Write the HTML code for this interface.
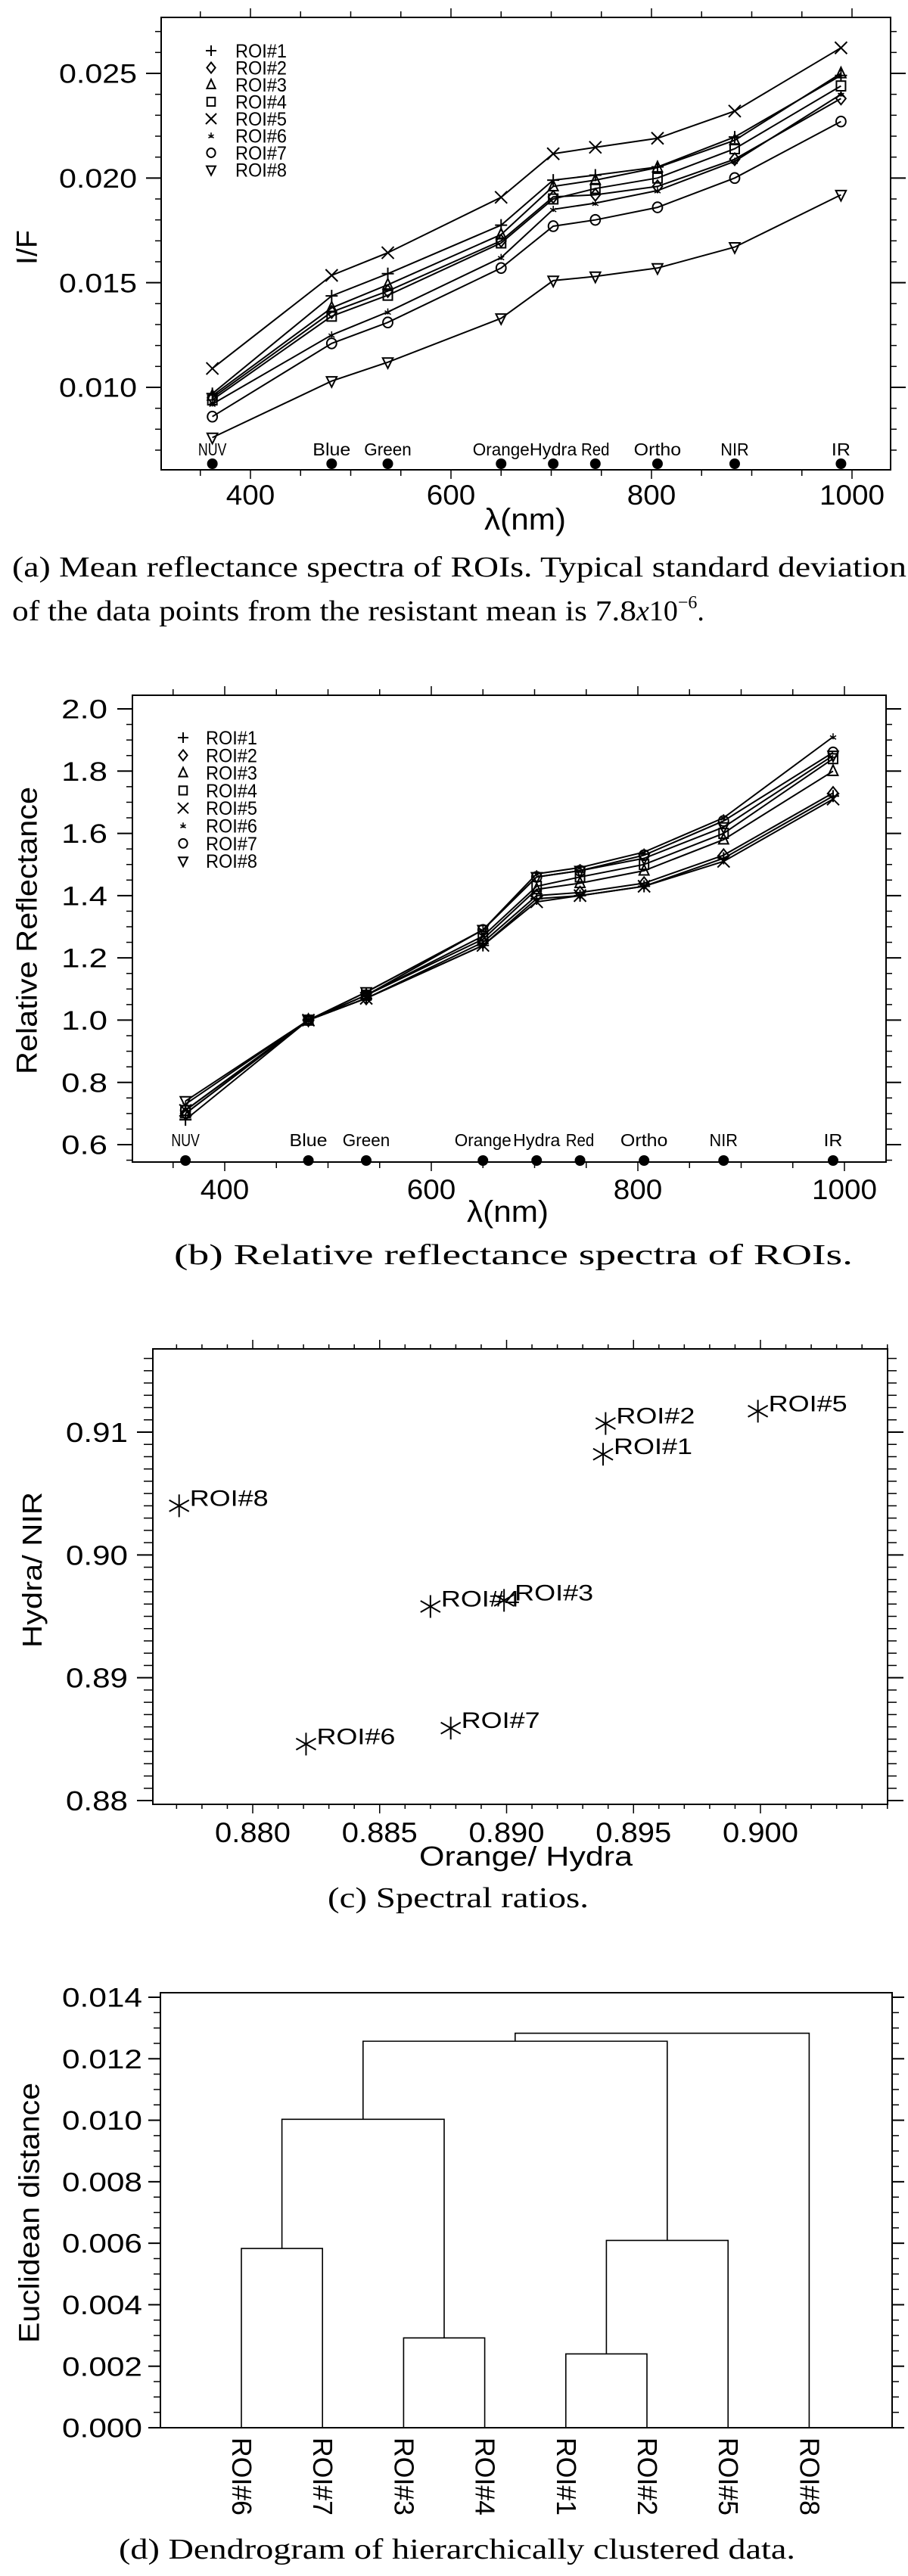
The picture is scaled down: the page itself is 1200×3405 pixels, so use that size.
<!DOCTYPE html>
<html><head><meta charset="utf-8"><title>ROI spectra figure</title>
<style>
html,body{margin:0;padding:0;background:#fff;}
svg{display:block;}
text{font-family:"Liberation Sans",sans-serif;fill:#000;}
.cap{font-family:"Liberation Serif",serif;}
</style></head>
<body>
<svg id="fig" xmlns="http://www.w3.org/2000/svg" width="1200" height="3405" viewBox="0 0 1200 3405">
<rect x="0" y="0" width="1200" height="3405" fill="#fff"/>
</svg>
<script>
// ---------- DATA ----------
const wavelengths = [362, 481, 537, 650, 702, 744, 806, 883, 989];
const bandNames = ["NUV", "Blue", "Green", "Orange", "Hydra", "Red", "Ortho", "NIR", "IR"];
const roiNames = ["ROI#1", "ROI#2", "ROI#3", "ROI#4", "ROI#5", "ROI#6", "ROI#7", "ROI#8"];
const markerTypes = ["plus", "diamond", "triangle", "square", "cross", "star", "circle", "tridown"];

// (a) I/F
const ifROI1 = [0.0097, 0.01437, 0.01543, 0.01775, 0.0199, 0.02014, 0.02053, 0.02196, 0.0249];
const ifROI2 = [0.0095, 0.0136, 0.0146, 0.0170, 0.0191, 0.0192, 0.0196, 0.0209, 0.0238];
const ifROI3 = [0.0096, 0.0138, 0.0149, 0.0173, 0.0196, 0.0199, 0.0205, 0.0218, 0.0250];
const ifROI4 = [0.0094, 0.0134, 0.0144, 0.0169, 0.0190, 0.0195, 0.0200, 0.0214, 0.0244];
const ifROI5 = [0.0109, 0.01535, 0.01643, 0.01908, 0.02116, 0.02147, 0.0219, 0.0232, 0.02622];
const ifROI6 = [0.0092, 0.0125, 0.0136, 0.0162, 0.0185, 0.0188, 0.0194, 0.0208, 0.0240];
const ifROI7 = [0.0086, 0.0121, 0.0131, 0.0157, 0.0177, 0.0180, 0.0186, 0.0200, 0.0227];
const ifROI8 = [0.0076, 0.0103, 0.0112, 0.0133, 0.0151, 0.0153, 0.0157, 0.0167, 0.0192];
const ifSeries = [ifROI1, ifROI2, ifROI3, ifROI4, ifROI5, ifROI6, ifROI7, ifROI8];
const ifTicks = [0.010, 0.015, 0.020, 0.025];
const ifTickLabels = ["0.010", "0.015", "0.020", "0.025"];

// (b) relative reflectance
const relROI1 = [0.68, 1, 1.07, 1.24, 1.39, 1.40, 1.43, 1.52, 1.72];
const relROI2 = [0.70, 1, 1.07, 1.25, 1.40, 1.41, 1.44, 1.53, 1.73];
const relROI3 = [0.70, 1, 1.08, 1.26, 1.42, 1.44, 1.48, 1.58, 1.80];
const relROI4 = [0.71, 1, 1.08, 1.27, 1.43, 1.46, 1.50, 1.60, 1.84];
const relROI5 = [0.71, 1, 1.07, 1.24, 1.38, 1.40, 1.43, 1.51, 1.71];
const relROI6 = [0.73, 1, 1.09, 1.29, 1.47, 1.49, 1.54, 1.65, 1.91];
const relROI7 = [0.71, 1, 1.08, 1.29, 1.46, 1.48, 1.53, 1.64, 1.86];
const relROI8 = [0.74, 1, 1.09, 1.29, 1.46, 1.48, 1.52, 1.62, 1.85];
const relSeries = [relROI1, relROI2, relROI3, relROI4, relROI5, relROI6, relROI7, relROI8];
const relTicks = [0.6, 0.8, 1.0, 1.2, 1.4, 1.6, 1.8, 2.0];
const relTickLabels = ["0.6", "0.8", "1.0", "1.2", "1.4", "1.6", "1.8", "2.0"];

const wlTicks = [400, 600, 800, 1000];
const wlTickLabels = ["400", "600", "800", "1000"];

// (c) spectral ratios
const scatterLabels = ["ROI#1", "ROI#2", "ROI#3", "ROI#4", "ROI#5", "ROI#6", "ROI#7", "ROI#8"];
const orangeHydra = [0.8938, 0.8939, 0.8899, 0.8870, 0.8999, 0.8821, 0.8878, 0.8771];
const hydraNir = [0.9082, 0.9107, 0.8963, 0.8958, 0.9117, 0.8846, 0.8859, 0.9040];
const ratioXTicks = [0.880, 0.885, 0.890, 0.895, 0.900];
const ratioXTickLabels = ["0.880", "0.885", "0.890", "0.895", "0.900"];
const ratioYTicks = [0.88, 0.89, 0.90, 0.91];
const ratioYTickLabels = ["0.88", "0.89", "0.90", "0.91"];

// (d) dendrogram
const dendLeaves = ["ROI#6", "ROI#7", "ROI#3", "ROI#4", "ROI#1", "ROI#2", "ROI#5", "ROI#8"];
const mergeLeft = [0, 2, 4, 10, 8, 12, 13];
const mergeRight = [1, 3, 5, 6, 9, 11, 7];
const mergeHeights = [0.00583, 0.00292, 0.0024, 0.00609, 0.01003, 0.01257, 0.01283];
const distTicks = [0, 0.002, 0.004, 0.006, 0.008, 0.010, 0.012, 0.014];
const distTickLabels = ["0.000", "0.002", "0.004", "0.006", "0.008", "0.010", "0.012", "0.014"];

// ---------- HELPERS ----------
const NS = "http://www.w3.org/2000/svg";
const svg = document.getElementById("fig");
function mk(tag, attrs, parent) {
  const el = document.createElementNS(NS, tag);
  for (const k in attrs) el.setAttribute(k, attrs[k]);
  (parent || svg).appendChild(el);
  return el;
}
function txt(str, attrs, parent) {
  const el = mk("text", attrs, parent);
  el.textContent = str;
  return el;
}
function linScale(d0, d1, r0, r1) { return v => r0 + (v - d0) * (r1 - r0) / (d1 - d0); }

function drawBox(g, b) {
  const r = mk("rect", {x: b.l, y: b.t, width: b.r - b.l, height: b.b - b.t, fill: "none", stroke: "#000", "stroke-width": 2}, g);
  
  
}
function yTicks(g, b, sy, lo, hi, step, majors, majLen, minLen) {
  const n = Math.round((hi - lo) / step);
  for (let i = 0; i <= n; i++) {
    const v = lo + i * step;
    const y = sy(v);
    if (y < b.t - 0.5 || y > b.b + 0.5) continue;
    const isMaj = majors.some(m => Math.abs(m - v) < step / 10);
    const len = isMaj ? majLen : minLen;
    const t1 = mk("line", {x1: b.l - len, x2: b.l, y1: y, y2: y, stroke: "#000", "stroke-width": isMaj ? 2 : 1.5}, g);
    
    
    const t2 = mk("line", {x1: b.r, x2: b.r + len, y1: y, y2: y, stroke: "#000", "stroke-width": isMaj ? 2 : 1.5}, g);
    
    
  }
}
function xTicks(g, b, sx, lo, hi, step, majors, majLen, minLen) {
  const n = Math.round((hi - lo) / step);
  for (let i = 0; i <= n; i++) {
    const v = lo + i * step;
    const x = sx(v);
    if (x < b.l - 0.5 || x > b.r + 0.5) continue;
    const isMaj = majors.some(m => Math.abs(m - v) < step / 10);
    const len = isMaj ? majLen : minLen;
    const t1 = mk("line", {x1: x, x2: x, y1: b.t - len, y2: b.t, stroke: "#000", "stroke-width": 1.5}, g);
    
    
    const t2 = mk("line", {x1: x, x2: x, y1: b.b, y2: b.b + len, stroke: "#000", "stroke-width": 1.5}, g);
    
    
  }
}
function yLabels(g, sy, ticks, labels, xRight, fs, charW) {
  ticks.forEach((v, i) => {
    const s = labels[i];
    const t = txt(s, {x: xRight, y: sy(v) + fs * 0.36, "text-anchor": "end", "font-size": fs, textLength: s.length * charW, lengthAdjust: "spacingAndGlyphs"}, g);
    
    
  });
}
function xLabels(g, sx, ticks, labels, yBase, fs, charW) {
  ticks.forEach((v, i) => {
    const s = labels[i];
    const w = s.length * charW;
    const t = txt(s, {x: sx(v) - w / 2, y: yBase, "font-size": fs, textLength: w, lengthAdjust: "spacingAndGlyphs"}, g);
    
    
  });
}
function marker(g, type, x, y, s) {
  let el;
  const st = {fill: "none", stroke: "#000", "stroke-width": 2};
  if (type === "plus") el = mk("path", Object.assign({d: `M${x - s} ${y}H${x + s}M${x} ${y - s}V${y + s}`}, st), g);
  else if (type === "diamond") el = mk("path", Object.assign({d: `M${x} ${y - s}L${x + s * 0.8} ${y}L${x} ${y + s}L${x - s * 0.8} ${y}Z`}, st), g);
  else if (type === "triangle") el = mk("path", Object.assign({d: `M${x} ${y - s}L${x + s * 0.8} ${y + s * 0.7}L${x - s * 0.8} ${y + s * 0.7}Z`}, st), g);
  else if (type === "tridown") el = mk("path", Object.assign({d: `M${x} ${y + s}L${x + s * 0.85} ${y - s * 0.7}L${x - s * 0.85} ${y - s * 0.7}Z`}, st), g);
  else if (type === "square") el = mk("rect", Object.assign({x: x - s * 0.75, y: y - s * 0.8, width: s * 1.5, height: s * 1.6}, st), g);
  else if (type === "cross") el = mk("path", Object.assign({d: `M${x - s} ${y - s}L${x + s} ${y + s}M${x + s} ${y - s}L${x - s} ${y + s}`}, st), g);
  else if (type === "circle") el = mk("ellipse", Object.assign({cx: x, cy: y, rx: s * 0.8, ry: s * 0.85}, st), g);
  else if (type === "star") el = mk("path", {d: `M${x} ${y - s * 0.6}V${y + s * 0.4}M${x - s * 0.5} ${y - s * 0.2}L${x + s * 0.5} ${y + s * 0.4}M${x + s * 0.5} ${y - s * 0.2}L${x - s * 0.5} ${y + s * 0.4}`, fill: "none", stroke: "#000", "stroke-width": 1.5}, g);
  else if (type === "asterisk") el = mk("path", {d: `M${x} ${y - s}V${y + s}M${x - s * 0.87} ${y - s * 0.5}L${x + s * 0.87} ${y + s * 0.5}M${x + s * 0.87} ${y - s * 0.5}L${x - s * 0.87} ${y + s * 0.5}`, fill: "none", stroke: "#000", "stroke-width": 2}, g);
  return el;
}
function axisTitleX(g, s, cx, yBase, fs, w) {
  const t = txt(s, {x: cx - w / 2, y: yBase, "font-size": fs, textLength: w, lengthAdjust: "spacingAndGlyphs"}, g);
  
  
}
function axisTitleY(g, s, cx, cy, fs, len) {
  const t = txt(s, {x: 0, y: 0, "font-size": fs, "text-anchor": "middle", textLength: len, lengthAdjust: "spacingAndGlyphs", transform: `translate(${cx + fs * 0.36},${cy}) rotate(-90)`}, g);
  
  
}
function caption(g, s, x, yBase, w) {
  const t = txt(s, {x: x, y: yBase, "font-size": 38, textLength: w, lengthAdjust: "spacingAndGlyphs", class: "cap"}, g);
  
  
  return t;
}

// ---------- SPECTRA PANELS (a) & (b) ----------
function spectraPanel(cfg) {
  const g = mk("g", {});
  
  
  const b = cfg.box;
  const sx = linScale(400, 1000, cfg.x400, cfg.x1000);
  const sy = linScale(cfg.yv0, cfg.yv1, cfg.yp0, cfg.yp1);
  drawBox(g, b);
  yTicks(g, b, sy, cfg.yMinorLo, cfg.yMinorHi, cfg.yMinor, cfg.yTicks, 20, 8);
  xTicks(g, b, sx, 350, 1050, 50, wlTicks, 12, 8);
  yLabels(g, sy, cfg.yTicks, cfg.yLabels, cfg.yLabelRight, 35, cfg.yCharW);
  xLabels(g, sx, wlTicks, wlTickLabels, cfg.xLabelBase, 37, 21.5);
  // band labels & dots
  wavelengths.forEach((w, i) => {
    const d = mk("circle", {cx: sx(w), cy: cfg.dotY, r: 7, fill: "#000"}, g);
    
    
    const s = bandNames[i];
    const wdt = s.length * 12.5;
    const t = txt(s, {x: sx(w) - wdt / 2, y: cfg.bandY, "font-size": 23, textLength: wdt, lengthAdjust: "spacingAndGlyphs"}, g);
    
    
  });
  // series
  cfg.series.forEach((vals, si) => {
    const sg = mk("g", {}, g);
    
    
    const pts = vals.map((v, i) => sx(wavelengths[i]).toFixed(1) + "," + sy(v).toFixed(1)).join(" ");
    const pl = mk("polyline", {points: pts, fill: "none", stroke: "#000", "stroke-width": 2}, sg);
    
    
    vals.forEach((v, i) => {
      const m = marker(sg, markerTypes[si], sx(wavelengths[i]), sy(v), 8);
      
      
    });
  });
  // legend
  roiNames.forEach((n, i) => {
    const y = cfg.legY + i * cfg.legStep;
    const m = marker(g, markerTypes[i], cfg.legSymX, y, 7);
    
    
    const t = txt(n, {x: cfg.legTextX, y: y + 9, "font-size": 25, textLength: 68, lengthAdjust: "spacingAndGlyphs"}, g);
    
    
  });
  axisTitleX(g, "λ(nm)", cfg.titleXcx, cfg.titleXy, 40, 108);
  axisTitleY(g, cfg.yTitle, 35, cfg.yTitleCy, 38, cfg.yTitleLen);
}

spectraPanel({
  name: "panel-a-mean-reflectance",
  box: {l: 213, r: 1177, t: 23, b: 621},
  x400: 331, x1000: 1126,
  yv0: 0.010, yv1: 0.025, yp0: 512, yp1: 97,
  yMinorLo: 0.006, yMinorHi: 0.028, yMinor: 0.001,
  yTicks: ifTicks, yLabels: ifTickLabels, yLabelRight: 181, yCharW: 20.6,
  xLabelBase: 667, dotY: 613, bandY: 602,
  series: ifSeries,
  legY: 67, legStep: 22.5, legSymX: 279, legTextX: 311,
  titleXcx: 694, titleXy: 700,
  yTitle: "I/F", yTitleCy: 327, yTitleLen: 46
});
spectraPanel({
  name: "panel-b-relative-reflectance",
  box: {l: 175, r: 1171, t: 919, b: 1536},
  x400: 297, x1000: 1116,
  yv0: 0.6, yv1: 2.0, yp0: 1513, yp1: 937,
  yMinorLo: 0.55, yMinorHi: 2.05, yMinor: 0.05,
  yTicks: relTicks, yLabels: relTickLabels, yLabelRight: 142, yCharW: 20.3,
  xLabelBase: 1585, dotY: 1534, bandY: 1515,
  series: relSeries,
  legY: 975, legStep: 23.3, legSymX: 242, legTextX: 272,
  titleXcx: 671, titleXy: 1615,
  yTitle: "Relative  Reflectance", yTitleCy: 1230, yTitleLen: 380
});

// ---------- CAPTIONS a,b ----------
caption(svg, "(a) Mean reflectance spectra of ROIs. Typical standard deviation", 16, 762, 1182);
(function () {
  const t = txt("", {x: 16, y: 820, "font-size": 38, class: "cap"});
  
  
  const a = mk("tspan", {textLength: 825, lengthAdjust: "spacingAndGlyphs"}, t);
  a.textContent = "of the data points from the resistant mean is 7.8";
  const b2 = mk("tspan", {"font-style": "italic"}, t);
  b2.textContent = "x";
  const c = mk("tspan", {}, t);
  c.textContent = "10";
  const d = mk("tspan", {dy: -16, "font-size": 24}, t);
  d.textContent = "−6";
  const e = mk("tspan", {dy: 16}, t);
  e.textContent = ".";
})();
caption(svg, "(b) Relative reflectance spectra of ROIs.", 230, 1671, 897);

// ---------- PANEL (c) ----------
(function () {
  const g = mk("g", {});
  
  
  const b = {l: 202, r: 1173, t: 1783, b: 2385};
  const sx = linScale(0.880, 0.900, 334, 1005);
  const sy = linScale(0.88, 0.91, 2380, 1893);
  drawBox(g, b);
  yTicks(g, b, sy, 0.879, 0.917, 0.001, ratioYTicks, 21, 12);
  xTicks(g, b, sx, 0.876, 0.905, 0.001, ratioXTicks, 12, 6);
  yLabels(g, sy, ratioYTicks, ratioYTickLabels, 169, 36, 20.5);
  xLabels(g, sx, ratioXTicks, ratioXTickLabels, 2435, 37, 20);
  orangeHydra.forEach((xv, i) => {
    const x = sx(xv), y = sy(hydraNir[i]);
    const m = marker(g, "asterisk", x, y, 15);
    
    
    const t = txt(scatterLabels[i], {x: x + 14, y: y, "font-size": 30, textLength: 104, lengthAdjust: "spacingAndGlyphs"}, g);
    
    
  });
  axisTitleX(g, "Orange/ Hydra", 695, 2466, 36, 282);
  axisTitleY(g, "Hydra/ NIR", 42, 2075, 36, 206);
  caption(g, "(c) Spectral ratios.", 433, 2521, 345);
})();

// ---------- PANEL (d) ----------
(function () {
  const g = mk("g", {});
  
  
  const b = {l: 212, r: 1179, t: 2634, b: 3209};
  const sy = linScale(0, 0.014, 3209, 2640);
  const leafX = i => 319 + i * 107.2;
  drawBox(g, b);
  yTicks(g, b, sy, 0, 0.014, 0.0005, distTicks, 16, 9);
  yLabels(g, sy, distTicks, distTickLabels, 188, 35, 21.2);
  // nodes
  const nodeX = dendLeaves.map((_, i) => leafX(i));
  const nodeH = dendLeaves.map(() => 0);
  mergeHeights.forEach((h, k) => {
    const a = mergeLeft[k], c = mergeRight[k];
    const xa = nodeX[a], xc = nodeX[c];
    const d = `M${xa} ${sy(nodeH[a])}V${sy(h)}H${xc}V${sy(nodeH[c])}`;
    const p = mk("path", {d: d, fill: "none", stroke: "#000", "stroke-width": 1.6}, g);
    
    
    nodeX.push((xa + xc) / 2);
    nodeH.push(h);
  });
  dendLeaves.forEach((n, i) => {
    const t = txt(n, {x: 0, y: 0, "font-size": 36, textLength: 103, lengthAdjust: "spacingAndGlyphs", transform: `translate(${leafX(i) - 12},3222) rotate(90)`}, g);
    
    
  });
  axisTitleY(g, "Euclidean  distance", 38, 2925, 38, 344);
  caption(g, "(d) Dendrogram of hierarchically clustered data.", 157, 3382, 894);
})();
</script>
</body></html>
